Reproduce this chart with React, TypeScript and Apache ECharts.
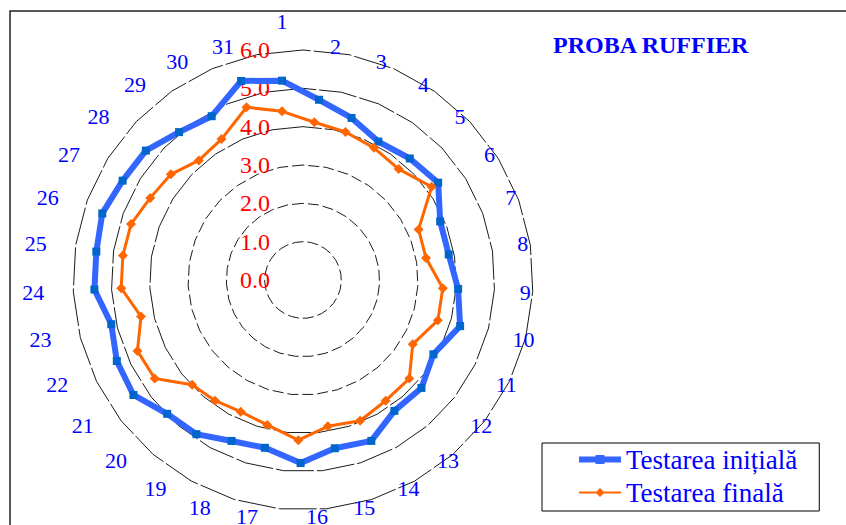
import React, { useEffect, useRef } from 'react';
import * as echarts from 'echarts';

const categories = ['1', '2', '3', '4', '5', '6', '7', '8', '9', '10', '11', '12', '13', '14', '15', '16',
  '17', '18', '19', '20', '21', '22', '23', '24', '25', '26', '27', '28', '29', '30', '31'];

const initialValues = [5.2, 4.8, 4.6, 4.4, 4.6, 4.8, 4.4, 4.4, 4.6, 4.8, 4.4, 4.6, 4.5, 4.8, 4.6, 4.8,
  4.4, 4.4, 4.6, 4.6, 4.9, 4.8, 4.6, 4.9, 4.9, 5.0, 4.9, 4.9, 4.7, 4.65, 5.3];

const finalValues = [4.4, 4.2, 4.2, 4.2, 4.2, 4.6, 3.8, 3.8, 4.2, 4.2, 3.8, 4.2, 4.15, 4.2, 4.0, 4.2,
  3.8, 3.6, 3.6, 3.6, 4.2, 4.2, 3.8, 4.2, 4.2, 4.2, 4.05, 4.0, 3.8, 4.0, 4.6];

const seriesNames = ['Testarea inițială', 'Testarea finală'];
const chartTitle = 'PROBA RUFFIER';
const axisMin = 0;
const axisMax = 6;
const axisSplits = 6;

const SERIF = 'Liberation Serif';

export default function App() {
  const ref = useRef<HTMLDivElement>(null);

  useEffect(() => {
    if (!ref.current) return;
    const chart = echarts.init(ref.current, null, { renderer: 'svg' });

    // ECharts lays radar indicators counter-clockwise; reorder so they read clockwise
    const n = categories.length;
    const order = categories.map((_, i) => (i === 0 ? 0 : n - i));

    const gridIndicators = categories.map(() => ({ min: axisMin, max: axisMax }));
    const clear = 'rgba(0,0,0,0)';

    const gridRadarBase = {
      center: [303, 280],
      radius: 230,
      startAngle: 90,
      splitNumber: axisSplits,
      shape: 'polygon',
      indicator: gridIndicators,
      axisName: { show: false },
      axisLine: { show: false },
      axisTick: { show: false },
      axisLabel: { show: false },
      splitArea: { show: false },
    };

    const option: any = {
      animation: false,
      backgroundColor: '#ffffff',
      title: {
        text: chartTitle,
        left: 548,
        top: 28,
        textStyle: { color: '#0000FF', fontFamily: SERIF, fontWeight: 'bold', fontSize: 24 },
      },
      legend: {
        orient: 'vertical',
        left: 542,
        top: 443,
        padding: [3, 22, 5, 37],
        itemGap: 6,
        itemWidth: 42,
        itemHeight: 9,
        borderColor: '#000',
        borderWidth: 1,
        selectedMode: false,
        textStyle: { color: '#0000FF', fontFamily: SERIF, fontSize: 27 },
        data: [
          {
            name: seriesNames[0],
            icon: 'path://M0,1.5H42V7.5H0Z M16.5,0H25.5V9H16.5Z',
            itemStyle: { color: '#3366FF', borderWidth: 0 },
          },
          {
            name: seriesNames[1],
            icon: 'path://M0,3.5H42V5.5H0Z M21,0L25.5,4.5L21,9L16.5,4.5Z',
            itemStyle: { color: '#FF6600', borderWidth: 0 },
          },
        ],
      },
      radar: [
        {
          ...gridRadarBase,
          splitLine: {
            lineStyle: {
              color: [clear, '#000', '#000', '#000', clear, clear, clear],
              width: 0.9,
              type: [11, 4],
            },
          },
        },
        {
          ...gridRadarBase,
          splitLine: {
            lineStyle: {
              color: [clear, clear, clear, clear, '#000', '#000', '#000'],
              width: 0.9,
              type: [38, 3],
            },
          },
        },
        {
          center: [282, 280],
          radius: 230,
          startAngle: 90,
          splitNumber: axisSplits,
          shape: 'polygon',
          nameGap: 8,
          indicator: order.map((k, j) => {
            const ind: any = { name: categories[k], min: axisMin, max: axisMax };
            if (j === 0) {
              ind.axisLabel = {
                show: true,
                color: '#FF0000',
                fontFamily: SERIF,
                fontSize: 24,
                margin: 12,
                formatter: (v: number) => v.toFixed(1),
              };
            }
            return ind;
          }),
          axisName: {
            color: '#0000FF',
            fontFamily: SERIF,
            fontSize: 22,
            formatter: (name: string) => (name === categories[0] ? '{t|' + name + '}' : name),
            rich: {
              t: { color: '#0000FF', fontFamily: SERIF, fontSize: 22, padding: [0, 0, 10, 0] },
            },
          },
          axisLine: { show: false },
          axisTick: { show: false },
          axisLabel: {
            show: false,
            color: '#FF0000',
            fontFamily: SERIF,
            fontSize: 24,
            margin: 12,
            formatter: (v: number) => v.toFixed(1),
          },
          splitLine: { show: false },
          splitArea: { show: false },
        },
      ],
      series: [
        {
          type: 'radar',
          radarIndex: 2,
          data: [
            {
              name: seriesNames[0],
              value: order.map((k) => initialValues[k]),
              symbol: 'rect',
              symbolSize: 8,
              lineStyle: { color: '#3366FF', width: 6 },
              itemStyle: { color: '#0066CC' },
            },
            {
              name: seriesNames[1],
              value: order.map((k) => finalValues[k]),
              symbol: 'diamond',
              symbolSize: 10,
              lineStyle: { color: '#FF6600', width: 3 },
              itemStyle: { color: '#FF6600' },
            },
          ],
        },
      ],
      graphic: [
        {
          type: 'rect',
          shape: { x: 10, y: 11, width: 1000, height: 1000 },
          style: { fill: 'none', stroke: '#222', lineWidth: 1.5 },
          silent: true,
          z: -1,
        },
      ],
    };

    chart.setOption(option);
    return () => chart.dispose();
  }, []);

  return (
    <div
      ref={ref}
      style={{ position: 'absolute', left: 0, top: 0, width: 846, height: 525, background: '#fff' }}
    />
  );
}
